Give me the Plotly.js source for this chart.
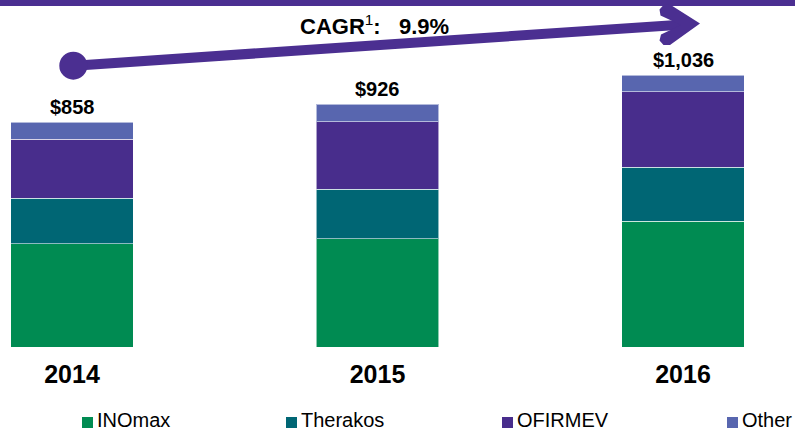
<!DOCTYPE html>
<html>
<head>
<meta charset="utf-8">
<script src="https://cdn.plot.ly/plotly-3.0.1.min.js"></script>
<style>html,body{margin:0;padding:0;background:#fff;}#chart{width:795px;height:431px;}</style>
</head>
<body>
<div id="chart"></div>
<script>
// ---- data ----
var years = ['2014', '2015', '2016'];
var inomax = [393, 412, 479];
var therakos = [175, 189, 206];
var ofirmev = [225, 258, 288];
var other = [65, 67, 63];
var totals = [858, 926, 1036];
var seriesNames = ['INOmax', 'Therakos', 'OFIRMEV', 'Other'];
var cagrText = 'CAGR<sup><span style="font-weight:normal">1</span></sup>:&nbsp;&nbsp; 9.9%';

// ---- styles / layout constants ----
var colors = ['#008B52', '#006674', '#482D8C', '#5866AF'];
var purple = '#4B2F91';
var W = 795, H = 431, plotH = 347;
var legendMarkerLeft = [82, 286, 502, 727];
var FONT = 'Arial, Liberation Sans, sans-serif';
var xpos = years.map(function (d, i) { return i; });
var seriesVals = [inomax, therakos, ofirmev, other];

var traces = seriesVals.map(function (vals, k) {
  return {
    type: 'bar',
    name: seriesNames[k],
    x: xpos,
    y: vals,
    width: 0.4,
    marker: { color: colors[k], line: { color: 'rgba(255,255,255,0.55)', width: 1 } },
    hoverinfo: 'name+y',
    showlegend: false
  };
});

function px(x) { return x / W; }
function py(y) { return 1 - y / plotH; }

var annotations = totals.map(function (t, i) {
  return {
    x: xpos[i], y: t, xref: 'x', yref: 'y',
    text: '$' + t.toLocaleString('en-US'),
    showarrow: false, yanchor: 'bottom', yshift: 2,
    font: { family: FONT, size: 20, color: '#000', weight: 'bold' }
  };
});
annotations.push({
  xref: 'paper', yref: 'paper', x: px(374.5), y: py(24.5), xanchor: 'center', yanchor: 'middle',
  text: cagrText, showarrow: false,
  font: { family: FONT, size: 22, color: '#000', weight: 'bold' }
});

var shapes = [
  // top band
  { type: 'rect', xref: 'paper', yref: 'paper', x0: 0, x1: 1, y0: py(6), y1: 1.05, fillcolor: purple, line: { width: 0 }, layer: 'above' },
  // arrow shaft
  { type: 'line', xref: 'paper', yref: 'paper', x0: px(78), y0: py(65.4), x1: px(688), y1: py(24.2), line: { color: purple, width: 10 } },
  // start dot
  { type: 'circle', xref: 'paper', yref: 'paper', x0: px(59.3), x1: px(87.3), y0: py(79.7), y1: py(51.7), fillcolor: purple, line: { width: 0 } },
  // arrow head (chevron)
  { type: 'path', xref: 'paper', yref: 'paper',
    path: 'M ' + px(700) + ' ' + py(23.5) +
      ' L ' + px(670) + ' ' + py(4.5) + ' L ' + px(663.5) + ' ' + py(5) + ' L ' + px(659.5) + ' ' + py(9.5) +
      ' L ' + px(660.5) + ' ' + py(15.5) + ' L ' + px(681) + ' ' + py(25) +
      ' L ' + px(661) + ' ' + py(34.5) + ' L ' + px(659.5) + ' ' + py(40.5) + ' L ' + px(663.5) + ' ' + py(45) +
      ' L ' + px(670) + ' ' + py(45) + ' Z',
    fillcolor: purple, line: { width: 0 } }
];

// legend drawn from the series names and colours
seriesNames.forEach(function (name, k) {
  var x0 = legendMarkerLeft[k];
  shapes.push({ type: 'rect', xref: 'paper', yref: 'paper',
    x0: px(x0), x1: px(x0 + 11), y0: py(428), y1: py(417),
    fillcolor: colors[k], line: { width: 0 } });
  annotations.push({ xref: 'paper', yref: 'paper', x: px(x0 + 14), y: py(420),
    xanchor: 'left', yanchor: 'middle', text: name, showarrow: false, borderpad: 0,
    font: { family: FONT, size: 20, color: '#000' } });
});

var layout = {
  width: W, height: H,
  margin: { l: 0, r: 0, t: 0, b: H - plotH, pad: 0 },
  paper_bgcolor: '#fff', plot_bgcolor: '#fff',
  barmode: 'stack',
  showlegend: false,
  xaxis: {
    type: 'linear', range: [-72 / 305.5, 723 / 305.5], fixedrange: true,
    tickvals: xpos, ticktext: years, ticks: '', showgrid: false, zeroline: false, showline: false,
    tickfont: { family: FONT, size: 25, color: '#000', weight: 'bold' },
    ticklabelstandoff: 10
  },
  yaxis: { range: [0, plotH * 858 / 225], visible: false, fixedrange: true },
  annotations: annotations,
  shapes: shapes
};

Plotly.newPlot('chart', traces, layout, { displayModeBar: false, staticPlot: true });
</script>
</body>
</html>
